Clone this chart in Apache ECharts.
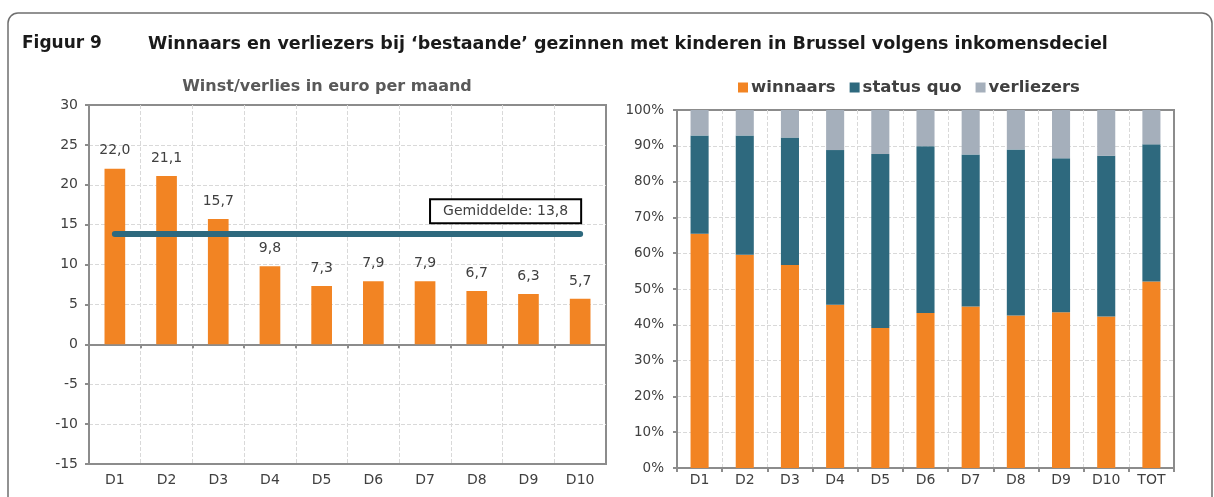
<!DOCTYPE html>
<html>
<head>
<meta charset="utf-8">
<script src="https://cdn.jsdelivr.net/npm/echarts@6/dist/echarts.min.js"></script>
<style>
  html, body { margin: 0; padding: 0; background: #fff; }
  #chart { width: 1214px; height: 497px; }
</style>
</head>
<body>
<div id="chart"></div>
<script>
// left panel: gain/loss per month by income decile
const deciles = ['D1', 'D2', 'D3', 'D4', 'D5', 'D6', 'D7', 'D8', 'D9', 'D10']
const winst = [22.0, 21.1, 15.7, 9.8, 7.3, 7.9, 7.9, 6.7, 6.3, 5.7]
const gemiddelde = 13.8

// right panel: share of winners / status quo / losers (%)
const groepen = ['D1', 'D2', 'D3', 'D4', 'D5', 'D6', 'D7', 'D8', 'D9', 'D10', 'TOT']
const winnaars = [65.4, 59.6, 56.7, 45.6, 39.1, 43.3, 45.1, 42.6, 43.5, 42.3, 52.1]
const statusQuo = [27.5, 33.3, 35.6, 43.2, 48.6, 46.6, 42.5, 46.4, 43.0, 44.9, 38.3]
const verliezers = [7.1, 7.1, 7.7, 11.2, 12.3, 10.1, 12.4, 11.0, 13.5, 12.8, 9.6]

const FONT = 'DejaVu Sans'
const ORANGE = '#f28423'
const TEAL = '#2e697e'
const GREY = '#a5afbb'
const AXIS = '#8c8c8c'
const GRID = '#d9d9d9'
const TXT = '#404040'

const fmt = v => v.toFixed(1).replace('.', ',')

const chart = echarts.init(document.getElementById('chart'))

const split = { show: true, showMinLine: false, showMaxLine: false, lineStyle: { color: GRID, type: 'dashed' } }

chart.setOption({
  animation: false,
  textStyle: { fontFamily: FONT },
  graphic: [
    {
      type: 'rect',
      shape: { x: 8, y: 13, width: 1204, height: 520, r: 10 },
      style: { fill: 'none', stroke: '#6f6f6f', lineWidth: 1.5 }
    }
  ],
  title: [
    {
      text: 'Figuur 9',
      left: 22, top: 35, padding: 0,
      textStyle: { fontFamily: FONT, fontSize: 17, fontWeight: 'bold', color: '#1a1a1a' }
    },
    {
      text: 'Winnaars en verliezers bij ‘bestaande’ gezinnen met kinderen in Brussel volgens inkomensdeciel',
      left: 148, top: 35, padding: 0,
      textStyle: { fontFamily: FONT, fontSize: 17.5, fontWeight: 'bold', color: '#1a1a1a' }
    },
    {
      text: 'Winst/verlies in euro per maand',
      left: 327, top: 79, textAlign: 'center', padding: 0,
      textStyle: { fontFamily: FONT, fontSize: 16, fontWeight: 'bold', color: '#595959' }
    }
  ],
  legend: {
    data: ['winnaars', 'status quo', 'verliezers'],
    left: 738, top: 79, padding: 0,
    itemWidth: 10, itemHeight: 10, itemGap: 14,
    icon: 'rect',
    textStyle: { fontFamily: FONT, fontSize: 16.5, fontWeight: 'bold', color: TXT, padding: [0, 0, 0, -2] }
  },
  grid: [
    { left: 89, right: 608, top: 105, bottom: 33, show: true, borderColor: AXIS, borderWidth: 2 },
    { left: 677, right: 40, top: 110, bottom: 29, show: true, borderColor: AXIS, borderWidth: 2 }
  ],
  xAxis: [
    {
      type: 'category', gridIndex: 0, data: deciles,
      axisLine: { onZero: false, lineStyle: { color: AXIS, width: 2 } },
      axisTick: { show: false },
      axisLabel: { color: TXT, fontSize: 14, margin: 9 },
      splitLine: split
    },
    {
      type: 'category', gridIndex: 0, data: deciles, position: 'top',
      axisLine: { onZero: true, lineStyle: { color: AXIS, width: 2 } },
      axisTick: { show: true, inside: true, length: 4, lineStyle: { color: AXIS, width: 2 } },
      axisLabel: { show: false },
      splitLine: { show: false }
    },
    {
      type: 'category', gridIndex: 1, data: groepen,
      axisLine: { lineStyle: { color: AXIS, width: 2 } },
      axisTick: { show: true, length: 4, lineStyle: { color: AXIS, width: 2 } },
      axisLabel: { color: TXT, fontSize: 14, margin: 5 },
      splitLine: split
    }
  ],
  yAxis: [
    {
      type: 'value', gridIndex: 0, min: -15, max: 30, interval: 5,
      axisLine: { show: true, lineStyle: { color: AXIS, width: 2 } },
      axisTick: { show: true, length: 4, lineStyle: { color: AXIS, width: 2 } },
      axisLabel: { color: TXT, fontSize: 14, margin: 11 },
      splitLine: split
    },
    {
      type: 'value', gridIndex: 1, min: 0, max: 100, interval: 10,
      axisLine: { show: true, lineStyle: { color: AXIS, width: 2 } },
      axisTick: { show: true, length: 4, lineStyle: { color: AXIS, width: 2 } },
      axisLabel: { color: TXT, fontSize: 13.5, margin: 13, formatter: '{value}%' },
      splitLine: split
    }
  ],
  series: [
    {
      name: 'winst', type: 'bar', xAxisIndex: 0, yAxisIndex: 0,
      data: winst, barWidth: '40%',
      itemStyle: { color: ORANGE },
      label: {
        show: true, position: 'top', distance: 11,
        color: TXT, fontSize: 14,
        formatter: p => fmt(p.value)
      },
      markLine: {
        silent: true, symbol: 'none',
        lineStyle: { color: TEAL, width: 6, type: 'solid', cap: 'round' },
        label: {
          show: true, position: 'insideEndTop', distance: [0, 12],
          formatter: 'Gemiddelde: ' + fmt(gemiddelde),
          color: TXT, fontSize: 14,
          backgroundColor: '#fff', borderColor: '#000', borderWidth: 2,
          padding: [4, 12, 4, 12]
        },
        data: [[{ coord: ['D1', gemiddelde] }, { coord: ['D10', gemiddelde] }]]
      }
    },
    {
      name: 'winnaars', type: 'bar', stack: 'aandeel', xAxisIndex: 2, yAxisIndex: 1,
      data: winnaars, barWidth: '40%', itemStyle: { color: ORANGE }
    },
    {
      name: 'status quo', type: 'bar', stack: 'aandeel', xAxisIndex: 2, yAxisIndex: 1,
      data: statusQuo, barWidth: '40%', itemStyle: { color: TEAL }
    },
    {
      name: 'verliezers', type: 'bar', stack: 'aandeel', xAxisIndex: 2, yAxisIndex: 1,
      data: verliezers, barWidth: '40%', itemStyle: { color: GREY }
    }
  ]
})
</script>
</body>
</html>
